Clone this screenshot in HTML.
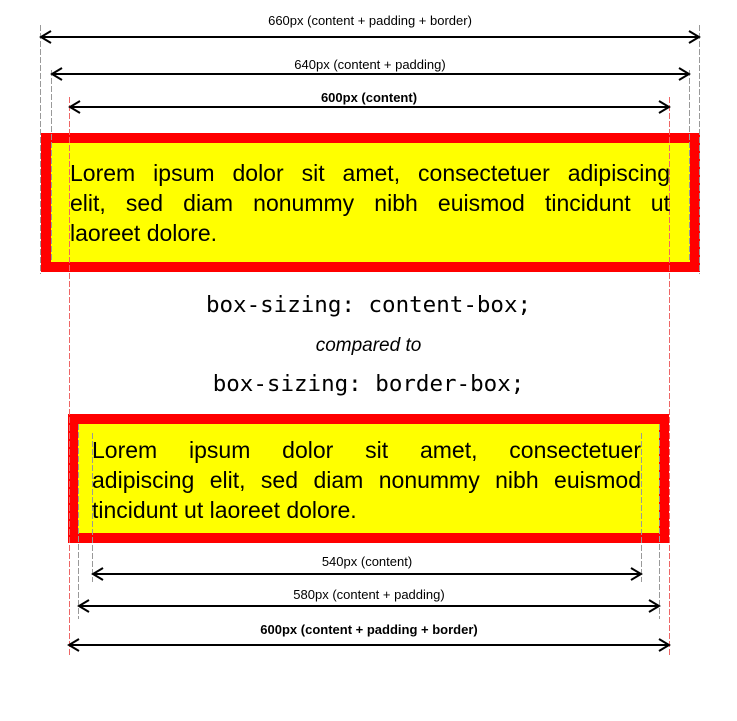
<!DOCTYPE html>
<html><head><style>
body{margin:0;width:737px;height:721px;background:#fff;position:relative;overflow:hidden;font-family:"Liberation Sans",Arial,sans-serif}
.ln{position:absolute;font-size:23px;line-height:30px;white-space:nowrap;text-align:justify;text-align-last:justify;color:#000}
.ln.last{text-align-last:left}
.c{position:absolute;width:737px;left:0;text-align:center}
</style></head><body>
<svg width="737" height="721" style="position:absolute;left:0;top:0">
<defs><marker id="a" markerWidth="14" markerHeight="14" refX="12" refY="7" orient="auto-start-reverse" markerUnits="userSpaceOnUse"><path d="M2,1 L12,7 L2,13" fill="none" stroke="#000" stroke-width="2"/></marker></defs>
<rect x="41" y="133" width="659" height="139" fill="#f00"/>
<rect x="51" y="143" width="639" height="119" fill="#ff0"/>
<rect x="68" y="414" width="601" height="129" fill="#f00"/>
<rect x="78" y="424" width="581" height="109" fill="#ff0"/>
<g stroke="#999" stroke-width="1" stroke-dasharray="6,2">
<line x1="40.5" y1="25" x2="40.5" y2="274"/><line x1="699.5" y1="25" x2="699.5" y2="274"/>
<line x1="51.5" y1="70" x2="51.5" y2="262"/><line x1="689.5" y1="70" x2="689.5" y2="262"/>
<line x1="92.5" y1="433" x2="92.5" y2="582"/><line x1="641.5" y1="433" x2="641.5" y2="582"/>
<line x1="78.5" y1="424" x2="78.5" y2="619"/><line x1="659.5" y1="424" x2="659.5" y2="619"/>
</g>
<g stroke="#e66" stroke-width="1" stroke-dasharray="6,2">
<line x1="69.5" y1="97" x2="69.5" y2="655"/><line x1="669.5" y1="97" x2="669.5" y2="655"/>
</g>
<g stroke="#000" stroke-width="2" marker-start="url(#a)" marker-end="url(#a)">
<line x1="41" y1="37" x2="699" y2="37"/>
<line x1="52" y1="74" x2="689" y2="74"/>
<line x1="70" y1="107" x2="669" y2="107"/>
<line x1="93" y1="574" x2="641" y2="574"/>
<line x1="79" y1="606" x2="659" y2="606"/>
<line x1="69" y1="645" x2="669" y2="645"/>
</g>
<g font-family="Liberation Sans, sans-serif" font-size="13" text-anchor="middle" fill="#000">
<text x="370" y="25">660px (content + padding + border)</text>
<text x="370" y="69">640px (content + padding)</text>
<text x="369" y="102" font-weight="bold">600px (content)</text>
<text x="367" y="566">540px (content)</text>
<text x="369" y="599">580px (content + padding)</text>
<text x="369" y="634" font-weight="bold">600px (content + padding + border)</text>
</g>
</svg>
<div class="ln" style="left:70px;top:158px;width:600px">Lorem ipsum dolor sit amet, consectetuer adipiscing</div>
<div class="ln" style="left:70px;top:188px;width:600px">elit, sed diam nonummy nibh euismod tincidunt ut</div>
<div class="ln last" style="left:70px;top:218px;width:600px">laoreet dolore.</div>
<div class="ln" style="left:92px;top:435px;width:549px">Lorem ipsum dolor sit amet, consectetuer</div>
<div class="ln" style="left:92px;top:465px;width:549px">adipiscing elit, sed diam nonummy nibh euismod</div>
<div class="ln last" style="left:92px;top:495px;width:549px">tincidunt ut laoreet dolore.</div>
<div class="c" style="top:292px;font-family:'DejaVu Sans Mono',monospace;font-size:22.5px">box-sizing: content-box;</div>
<div class="c" style="top:335px;font-style:italic;font-size:19px">compared to</div>
<div class="c" style="top:371px;font-family:'DejaVu Sans Mono',monospace;font-size:22.5px">box-sizing: border-box;</div>
</body></html>
